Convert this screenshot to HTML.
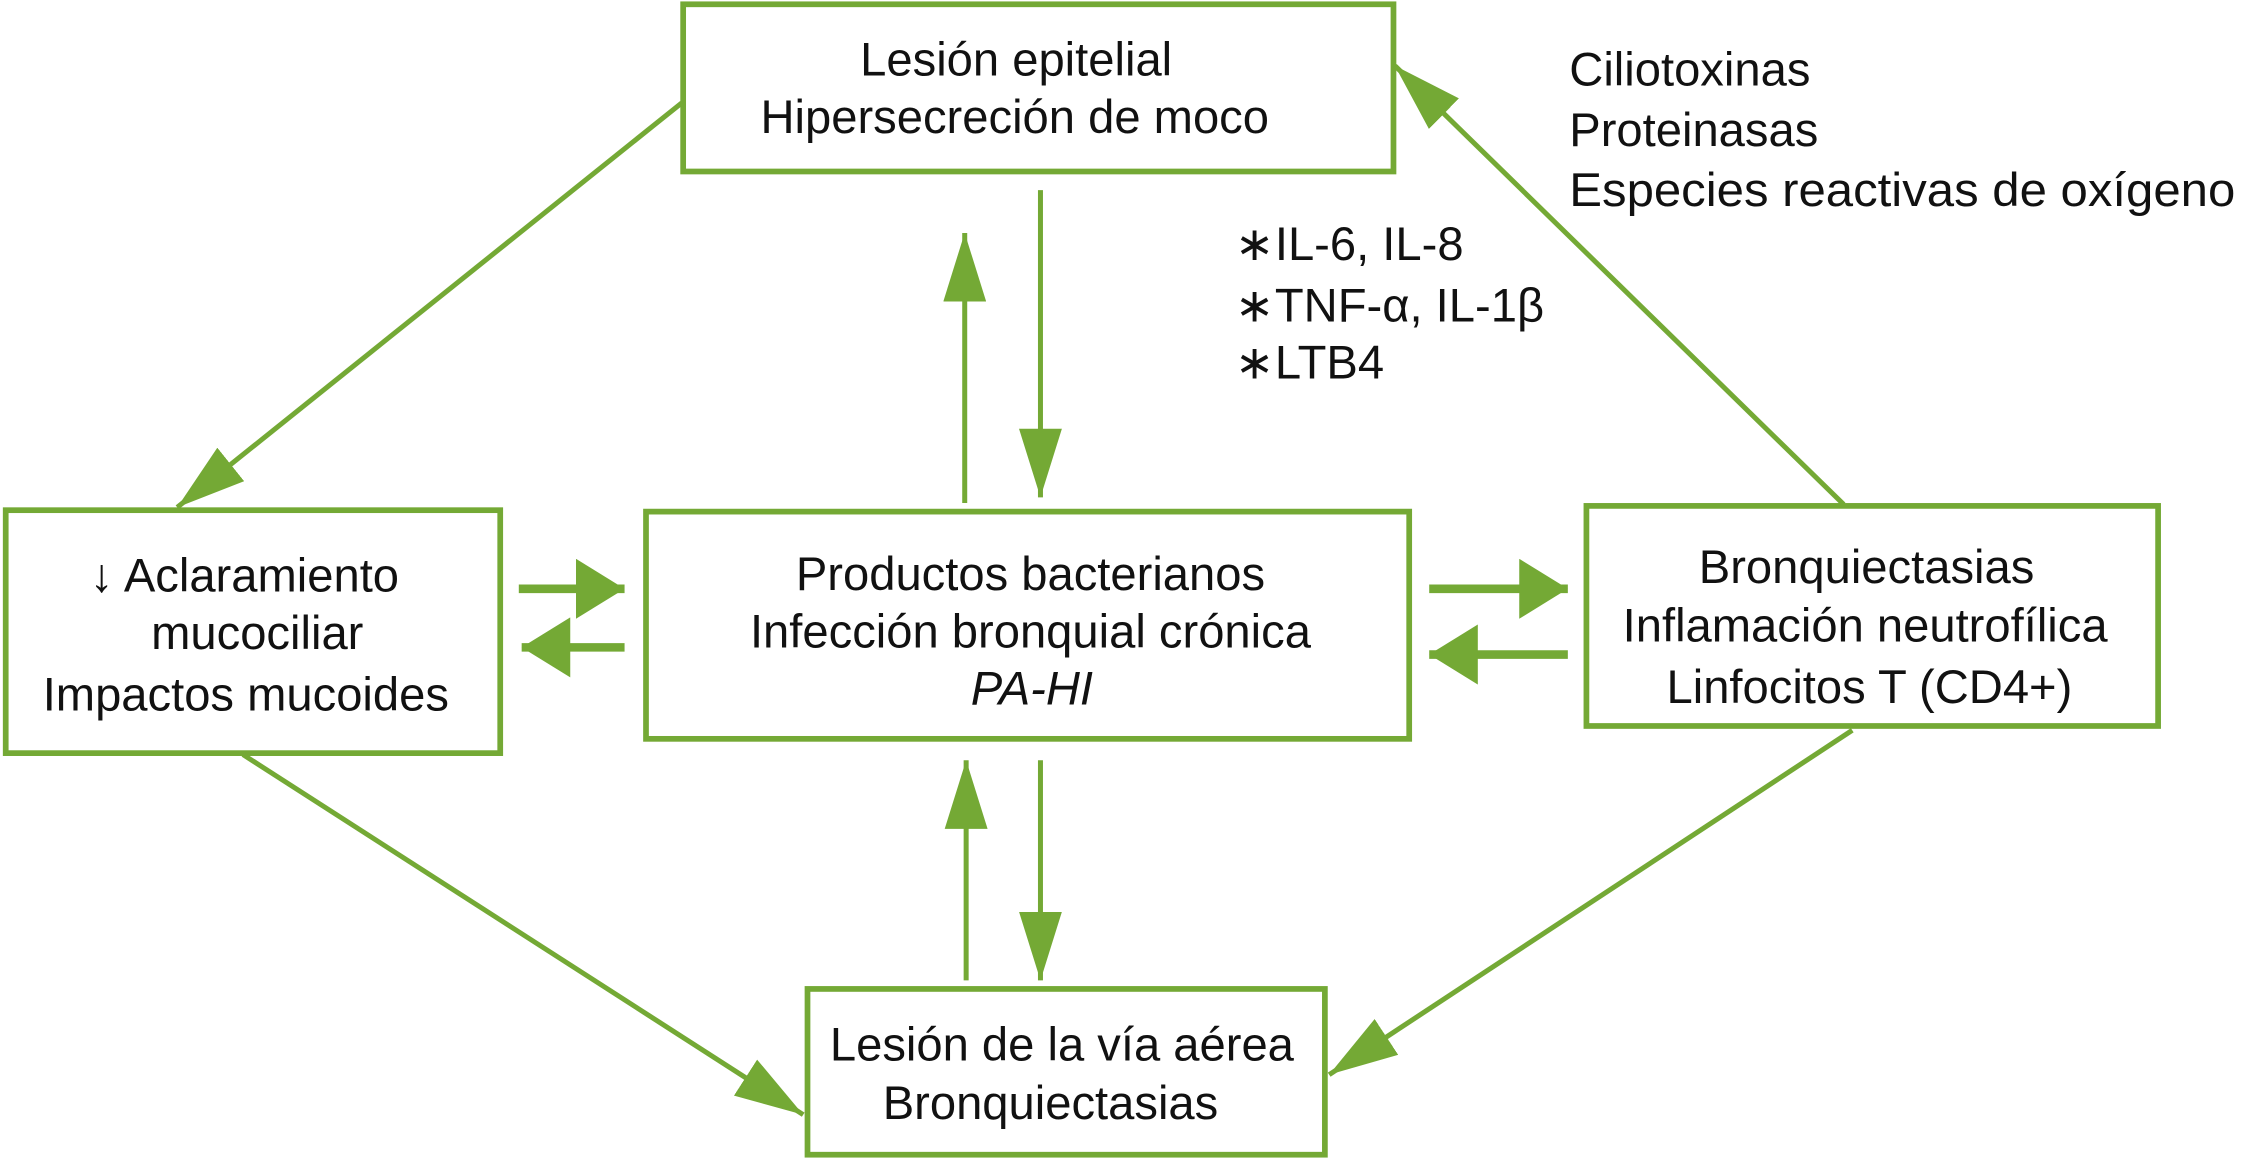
<!DOCTYPE html>
<html><head><meta charset="utf-8"><style>
html,body{margin:0;padding:0;background:#fff;}
svg{display:block;}
text{font-family:"Liberation Sans",Arial,sans-serif;font-size:33px;fill:#111;}
</style></head><body>
<svg width="2241" height="1159" viewBox="0 0 1568 811" preserveAspectRatio="none" xmlns="http://www.w3.org/2000/svg">
<defs>
<marker id="a" viewBox="0 0 48 30" refX="48" refY="15" markerWidth="48" markerHeight="30" markerUnits="userSpaceOnUse" orient="auto">
<path d="M0,0 L48,15 L0,30 Z" fill="#74a935"/>
</marker>
<marker id="h" viewBox="0 0 34 42" refX="34" refY="21" markerWidth="34" markerHeight="42" markerUnits="userSpaceOnUse" orient="auto">
<path d="M0,0 L34,21 L0,42 Z" fill="#74a935"/>
</marker>
</defs>
<g fill="none" stroke="#74a935" stroke-width="4">
<rect x="478" y="3" width="497" height="117"/>
<rect x="4" y="357" width="346" height="170"/>
<rect x="452" y="358" width="534" height="159"/>
<rect x="1110" y="354" width="400" height="154"/>
<rect x="565" y="692" width="362" height="116"/>
</g>
<g stroke="#74a935" stroke-width="3.5" fill="none" marker-end="url(#a)">
<line x1="477" y1="72" x2="124" y2="355"/>
<line x1="675" y1="352" x2="675" y2="163"/>
<line x1="728" y1="133" x2="728" y2="348"/>
<line x1="1290" y1="353" x2="976" y2="46"/>
<line x1="676" y1="686" x2="676" y2="532"/>
<line x1="728" y1="532" x2="728" y2="686"/>
<line x1="170" y1="528" x2="562" y2="780"/>
<line x1="1296" y1="511" x2="930" y2="752"/>
</g>
<g stroke="#74a935" stroke-width="6" fill="none" marker-end="url(#h)">
<line x1="363" y1="412" x2="437" y2="412"/>
<line x1="437" y1="453" x2="365" y2="453"/>
<line x1="1000" y1="412" x2="1097" y2="412"/>
<line x1="1097" y1="458" x2="1000" y2="458"/>
</g>
<g text-anchor="middle">
<text x="711" y="53">Lesión epitelial</text>
<text x="710" y="93">Hipersecreción de moco</text>
<text x="171" y="414">↓ Aclaramiento</text>
<text x="180" y="454">mucociliar</text>
<text x="172" y="497">Impactos mucoides</text>
<text x="721" y="413">Productos bacterianos</text>
<text x="721" y="453">Infección bronquial crónica</text>
<text x="722" y="493" font-style="italic">PA-HI</text>
<text x="1306" y="408">Bronquiectasias</text>
<text x="1305" y="449">Inflamación neutrofílica</text>
<text x="1308" y="492">Linfocitos T (CD4+)</text>
<text x="743" y="742">Lesión de la vía aérea</text>
<text x="735" y="783">Bronquiectasias</text>
</g>
<text x="1098" y="60">Ciliotoxinas</text>
<text x="1098" y="102">Proteinasas</text>
<text x="1098" y="144" textLength="466" lengthAdjust="spacingAndGlyphs">Especies reactivas de oxígeno</text>
<text x="864" y="182" font-size="20">∗</text>
<text x="892" y="182">IL-6, IL-8</text>
<text x="864" y="225" font-size="20">∗</text>
<text x="892" y="225">TNF-α, IL-1β</text>
<text x="864" y="265" font-size="20">∗</text>
<text x="892" y="265">LTB4</text>
</svg>
</body></html>
